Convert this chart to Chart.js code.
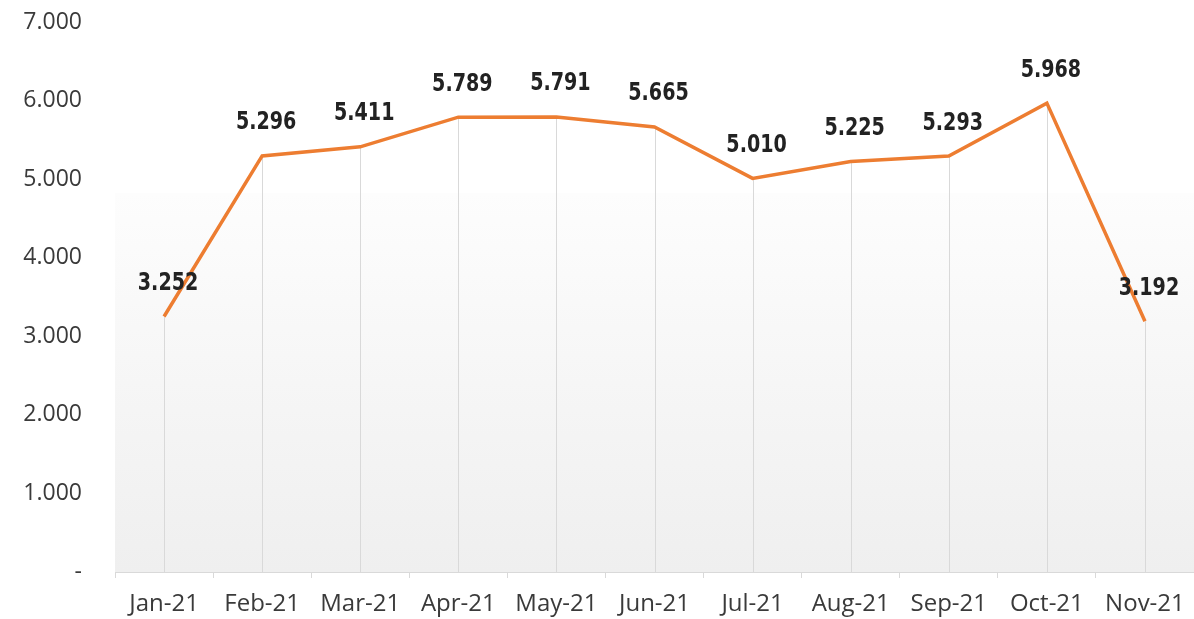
<!DOCTYPE html>
<html><head><meta charset="utf-8">
<script src="https://cdn.jsdelivr.net/npm/chart.js@4"></script>
<style>html,body{margin:0;padding:0;background:#fff}#wrap{width:1194px;height:619px}</style>
</head><body><div id="wrap"><canvas id="c" width="1194" height="619"></canvas></div>
<script>
const categories = ['Jan-21','Feb-21','Mar-21','Apr-21','May-21','Jun-21','Jul-21','Aug-21','Sep-21','Oct-21','Nov-21'];
const values = [3252,5296,5411,5789,5791,5665,5010,5225,5293,5968,3192];
const yTickValues = [0,1000,2000,3000,4000,5000,6000,7000];

function fmt(v){ if(v===0) return '-'; return String(v).replace(/\B(?=(\d{3})+(?!\d))/g,'.'); }

const bgPlugin = {
  id:'bg',
  beforeDraw(chart){
    const {ctx, chartArea:a, scales:{y}} = chart;
    const top = y.getPixelForValue(4825);
    const g = ctx.createLinearGradient(0, top, 0, a.bottom);
    g.addColorStop(0,'#fdfdfd'); g.addColorStop(1,'#efefef');
    ctx.save(); ctx.fillStyle=g; ctx.fillRect(a.left, top, a.right-a.left, a.bottom-top); ctx.restore();
  },
  beforeDatasetsDraw(chart){
    const {ctx, scales:{y}} = chart;
    const meta = chart.getDatasetMeta(0);
    ctx.save(); ctx.strokeStyle='#d9d9d9'; ctx.lineWidth=1;
    meta.data.forEach(p=>{ const x=Math.round(p.x)+0.5; ctx.beginPath(); ctx.moveTo(x,p.y); ctx.lineTo(x,y.getPixelForValue(0)); ctx.stroke(); });
    ctx.restore();
  },
  afterDatasetsDraw(chart){
    const {ctx} = chart;
    const meta = chart.getDatasetMeta(0);
    const sx = 0.85;
    ctx.save(); ctx.fillStyle='#222'; ctx.font='bold 25px "DejaVu Sans Condensed", "Liberation Sans Narrow", sans-serif';
    ctx.textAlign='center'; ctx.textBaseline='middle';
    meta.data.forEach((p,i)=>{
      ctx.save(); ctx.translate(p.x+4, p.y-33); ctx.scale(sx,1);
      ctx.fillText(fmt(values[i]), 0, 0); ctx.restore();
    });
    ctx.restore();
  }
};

new Chart(document.getElementById('c'), {
  type:'line',
  data:{ labels:categories, datasets:[{ data:values, borderColor:'#ED7D31', borderWidth:3.5, pointRadius:0, tension:0, fill:false }]},
  options:{
    responsive:false, animation:false, devicePixelRatio:1,
    layout:{padding:{top:0,right:0,left:0,bottom:0}},
    plugins:{legend:{display:false}, tooltip:{enabled:false}},
    scales:{
      x:{ offset:true,
        grid:{ offset:true, drawOnChartArea:false, drawTicks:true, tickLength:6, color:'#d9d9d9' },
        border:{ color:'#d9d9d9', width:1 },
        ticks:{ color:'#3a3a3a', font:{family:'"Open Sans", sans-serif', size:24}, padding:12, maxRotation:0, autoSkip:false },
        afterFit(s){ s.height = 47; s.paddingRight = 0; s.paddingLeft = 0; }
      },
      y:{ min:0, max:7000,
        afterBuildTicks(s){ s.ticks = yTickValues.map(v=>({value:v})); },
        grid:{ display:false, drawTicks:false },
        border:{ display:false },
        ticks:{ color:'#3a3a3a', font:{family:'"Open Sans", sans-serif', size:23}, padding:33, callback:v=>fmt(v) },
        afterFit(s){ s.width = 115; s.paddingTop = 22; }
      }
    }
  },
  plugins:[bgPlugin]
});
</script></body></html>
